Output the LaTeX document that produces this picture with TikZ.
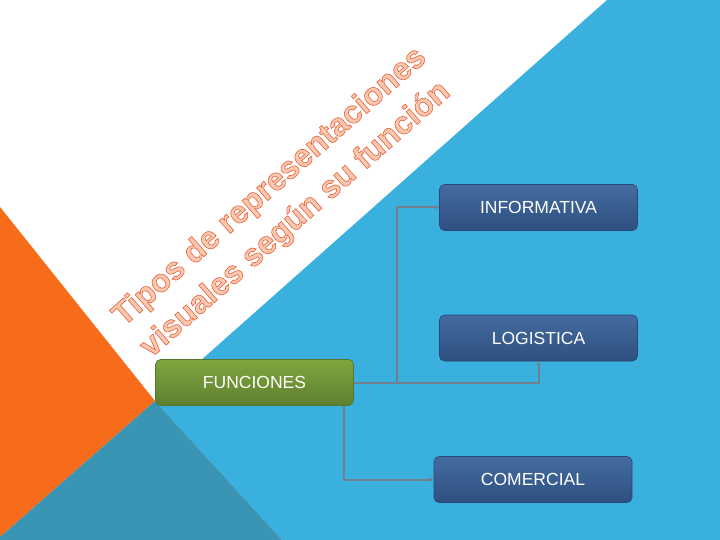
\documentclass[tikz,border=0pt]{standalone}
\usepackage{fontspec}
\setmainfont{Liberation Sans}
\usetikzlibrary{arrows.meta}
\definecolor{bgblue}{RGB}{57,176,222}
\definecolor{bgorange}{RGB}{246,108,26}
\definecolor{bgteal}{RGB}{58,148,180}
\definecolor{boxtop}{RGB}{68,107,160}
\definecolor{boxbot}{RGB}{46,80,127}
\definecolor{boxline}{RGB}{42,72,115}
\definecolor{gtop}{RGB}{126,166,62}
\definecolor{gbot}{RGB}{95,127,47}
\definecolor{gline}{RGB}{88,118,44}
\definecolor{conncol}{RGB}{112,128,144}
\definecolor{titlefill}{RGB}{253,200,176}
\newcommand\outlinedtxt[1]{\special{pdf:literal direct 2 Tr 0.6 w 0.90 0.38 0.22 RG}#1\special{pdf:literal direct 0 Tr}}
\tikzset{
  bluebox/.style={rectangle, rounded corners=5pt, top color=boxtop, bottom color=boxbot,
    draw=boxline, line width=0.6pt, minimum width=198pt, minimum height=46pt,
    text=white, font=\fontsize{17.5}{20}\selectfont, inner sep=0pt},
  greenbox/.style={bluebox, top color=gtop, bottom color=gbot, draw=gline},
  conn/.style={draw=conncol, line width=2pt, -{Stealth[length=4pt,width=4.5pt]}}
}
\begin{document}
\begin{tikzpicture}[x=1pt,y=-1pt]
\useasboundingbox (0,0) rectangle (720,540);
\fill[white] (0,0) rectangle (720,540);
% background shapes
\fill[bgblue] (607,0) -- (720,0) -- (720,540) -- (282,540) -- (155,401) -- cycle;
\fill[bgorange] (0,207) -- (155,401) -- (0,537) -- cycle;
\fill[bgteal] (155,401) -- (0,537) -- (0,540) -- (282,540) -- cycle;
% nodes
\node[greenbox] (F) at (254.5,382.5) {FUNCIONES};
\node[bluebox] (I) at (538.5,207.5) {INFORMATIVA};
\node[bluebox] (L) at (538.5,338) {LOGISTICA};
\node[bluebox] (C) at (533,479.5) {COMERCIAL};
% connectors
\coordinate (j) at (397,382.5);
\draw[conn] (F.east) -| (L.south);
\draw[conn] (j) |- (I.west);
\draw[conn] ([xshift=89.5pt]F.south) |- (C.west);
% title
\node[rotate=41.3, align=left, text=titlefill, inner sep=0pt,
  font=\bfseries\fontsize{32}{41.5}\selectfont] (T) at (284,203)
  {\outlinedtxt{Tipos de representaciones}\\\outlinedtxt{visuales según su función}};
\end{tikzpicture}
\end{document}
